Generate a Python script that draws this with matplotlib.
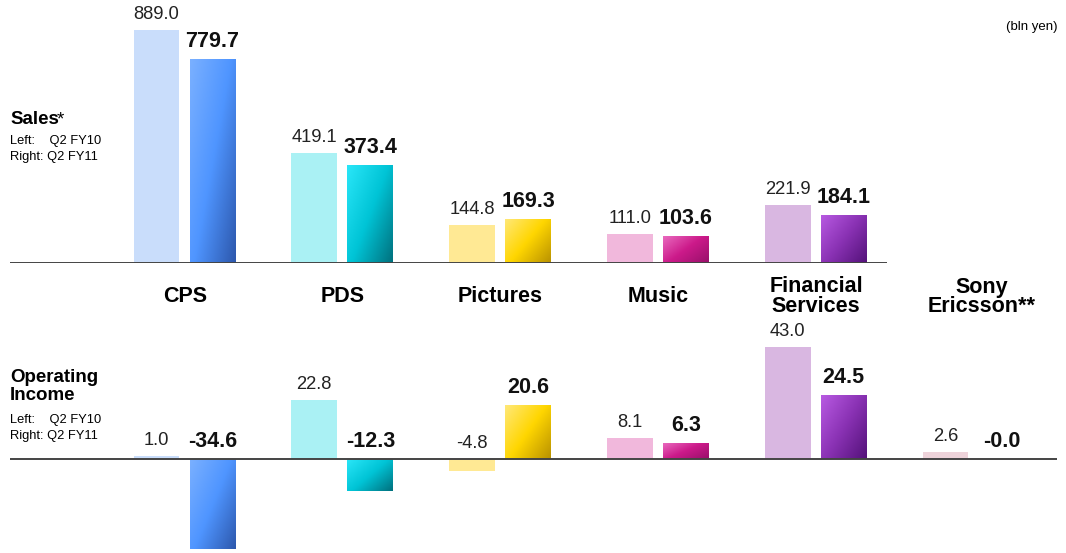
import numpy as np
import matplotlib.pyplot as plt
from matplotlib.colors import LinearSegmentedColormap

plt.rcParams['font.family'] = ['Liberation Sans', 'DejaVu Sans']

# data (bln yen)
segments = ["CPS", "PDS", "Pictures", "Music", "Financial\nServices", "Sony\nEricsson**"]
sales_fy10 = [889.0, 419.1, 144.8, 111.0, 221.9]
sales_fy11 = [779.7, 373.4, 169.3, 103.6, 184.1]
oi_fy10 = [1.0, 22.8, -4.8, 8.1, 43.0, 2.6]
oi_fy11 = [-34.6, -12.3, 20.6, 6.3, 24.5, -0.0]

# colours: plain left bar, gradient (light, mid, dark) for right bar
light_cols = ["#c9ddfb", "#aaf1f4", "#ffe994", "#f1b8dc", "#d9b7e1", "#eed3da"]
grad_cols = [("#7ab0ff", "#4f95ff", "#2d58ad"),
             ("#2ae6f8", "#00c4d6", "#00717e"),
             ("#ffe878", "#ffd600", "#b99200"),
             ("#ea6cc0", "#cc1a8a", "#98106a"),
             ("#b85ae2", "#8a32b4", "#54127a"),
             ("#e0a0b0", "#c07080", "#904050")]

W, H = 1066, 553
fig = plt.figure(figsize=(W / 100, H / 100), dpi=100)

# x in group units: group 0 centred at px 184.5, spacing 157.8 px
x0, dx = 184.5, 157.8
xlim = (-x0 / dx, (W - x0) / dx)
off, bw = 0.1775, 0.29


def px(x, y):
    return x / W, 1 - y / H


def grad_bar(ax, bar, cols):
    cmap = LinearSegmentedColormap.from_list("g", cols)
    u = np.linspace(0, 1, 60)
    uu, vv = np.meshgrid(u, u)
    img = (uu * 0.55 + vv * 0.45)
    x, y = bar.get_x(), bar.get_y()
    w, h = bar.get_width(), bar.get_height()
    y1, y2 = min(y, y + h), max(y, y + h)
    im = ax.imshow(img, cmap=cmap, extent=(x, x + w, y1, y2), origin='upper',
                   aspect='auto', zorder=2, interpolation='bilinear')
    im.set_clip_path(bar)


def draw_panel(ax, left, right, n, line_end):
    idx = np.arange(n)
    ax.bar(idx - off, left, bw, color=light_cols[:n], zorder=2)
    rb = ax.bar(idx + off, right, bw, color="none", zorder=2)
    for bar, c in zip(rb, grad_cols):
        if bar.get_height() != 0:
            grad_bar(ax, bar, c)
    for i in idx:
        ax.annotate(f"{left[i]:.1f}", (i - off, max(left[i], 0)), xytext=(0, 5),
                    textcoords="offset points", ha="center", va="bottom",
                    fontsize=13.2, color="#222222")
        ax.annotate(f"{right[i]:.1f}", (i + off, max(right[i], 0)), xytext=(0, 5),
                    textcoords="offset points", ha="center", va="bottom",
                    fontsize=15.5, fontweight="bold", color="#111111")
    ax.plot([(10 - x0) / dx, (line_end - x0) / dx], [0, 0], color="#444444",
            lw=1.4, zorder=3, solid_capstyle="butt")
    ax.set_xlim(*xlim)
    ax.axis("off")


# top panel: sales, baseline at px 263, 0.262 px per bln yen
ax_top = fig.add_axes([0, 1 - 263 / H, 1, 263 / H])
draw_panel(ax_top, sales_fy10, sales_fy11, 5, 887)
ax_top.set_ylim(0, 263 / 0.262)

# bottom panel: operating income, baseline at px 459, 2.6 px per bln yen
ax_bot = fig.add_axes([0, 0, 1, (553 - 330) / H])
draw_panel(ax_bot, oi_fy10, oi_fy11, 6, 1057)
ax_bot.set_ylim(-94 / 2.6, 129 / 2.6)

# segment names, one text per line
for i, name in enumerate(segments):
    lines = name.split("\n")
    cx = x0 + i * dx + (8 if i == 5 else 0.5)
    ys = [297] if len(lines) == 1 else [287, 307]
    for line, y in zip(lines, ys):
        fig.text(*px(cx, y), line, ha="center", va="center",
                 fontsize=15.5, fontweight="bold")

# side captions
fig.text(*px(10, 124), "Sales", ha="left", va="baseline", fontsize=13.5,
         fontweight="bold")
fig.text(*px(57, 124), "*", ha="left", va="baseline", fontsize=13.5)
fig.text(*px(10, 141), "Left:    Q2 FY10", ha="left", va="center", fontsize=9.3)
fig.text(*px(10, 157), "Right: Q2 FY11", ha="left", va="center", fontsize=9.3)
fig.text(*px(10, 378), "Operating", ha="left", va="center",
         fontsize=13.5, fontweight="bold")
fig.text(*px(10, 395), "Income", ha="left", va="center",
         fontsize=13.5, fontweight="bold")
fig.text(*px(10, 420), "Left:    Q2 FY10", ha="left", va="center", fontsize=9.3)
fig.text(*px(10, 436), "Right: Q2 FY11", ha="left", va="center", fontsize=9.3)
fig.text(*px(1058, 27), "(bln yen)", ha="right", va="center", fontsize=9.5)

fig.savefig("out.png", dpi=100)
